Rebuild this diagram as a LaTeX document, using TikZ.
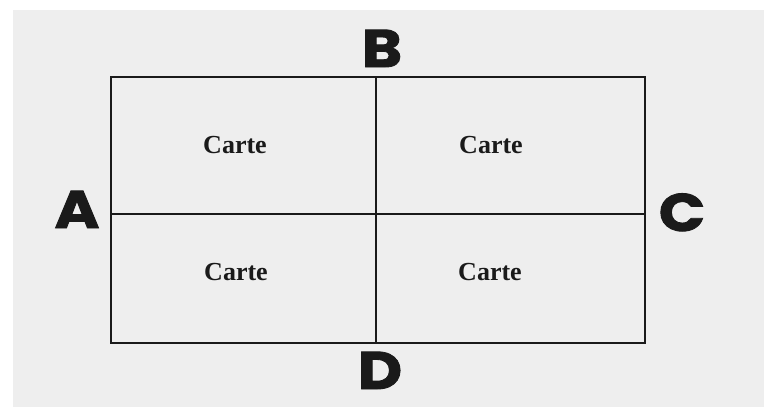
\documentclass[tikz,border=0pt]{standalone}
\usepackage{fontspec}
\setmainfont{Liberation Serif}
\newfontfamily\bigletters{Poppins}[BoldFeatures={FakeBold=1.6}]
\definecolor{paper}{HTML}{EEEEEE}
\definecolor{ink}{HTML}{1A1A1A}
\tikzset{
  cell/.style={font=\fontsize{26}{28}\selectfont\bfseries, text=ink, inner sep=0pt},
  side/.style={font=\bigletters\fontsize{53}{55}\selectfont\bfseries, text=ink, inner sep=0pt, anchor=base, xscale=1.15},
  frame/.style={draw=ink, line width=2pt}
}
\begin{document}
\begin{tikzpicture}[x=1pt,y=-1pt]
\useasboundingbox (0,0) rectangle (764,407);
\fill[white] (0,0) rectangle (764,407);
\fill[paper] (13,10) rectangle (764,407);
% grid
\coordinate (tl) at (111,77);
\coordinate (br) at (645,343);
\coordinate (tm) at (376,77);
\coordinate (bm) at (376,343);
\coordinate (lm) at (111,214);
\coordinate (rm) at (645,214);
\draw[frame] (tl) rectangle (br);
\draw[frame] (tm) -- (bm);
\draw[frame, line width=2.4pt] (lm) -- (rm);
% labels
\node[cell] (c1) at (235,145) {Carte};
\node[cell] (c2) at (491,145) {Carte};
\node[cell] (c3) at (236,272) {Carte};
\node[cell] (c4) at (490,272) {Carte};
\node[side] (A) at (77,228) {A};
\node[side] (B) at (382,67) {B};
\node[side] (C) at (682,231) {C};
\node[side] (D) at (380,389) {D};
\end{tikzpicture}
\end{document}
